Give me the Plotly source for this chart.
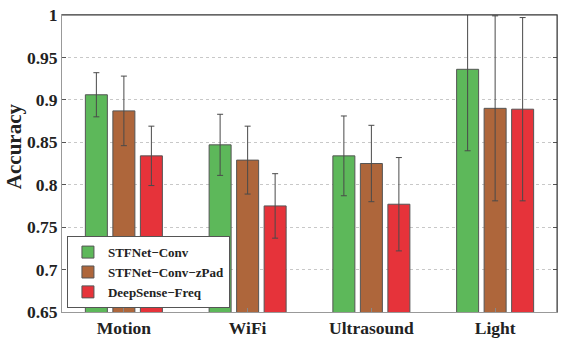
import plotly.graph_objects as go

categories = ["Motion", "WiFi", "Ultrasound", "Light"]
series_names = ["STFNet−Conv", "STFNet−Conv−zPad", "DeepSense−Freq"]
accuracy = [
    [0.906, 0.847, 0.834, 0.936],
    [0.887, 0.829, 0.825, 0.890],
    [0.834, 0.775, 0.777, 0.889],
]
errors = [
    [0.026, 0.036, 0.047, 0.096],
    [0.041, 0.040, 0.045, 0.109],
    [0.035, 0.038, 0.055, 0.108],
]
colors = ["#5DB85A", "#AE663B", "#E6333A"]
y_ticks = [0.65, 0.7, 0.75, 0.8, 0.85, 0.9, 0.95, 1]
y_tick_text = ["0.65", "0.7", "0.75", "0.8", "0.85", "0.9", "0.95", "1"]

SERIF = "Liberation Serif, Times New Roman, serif"

fig = go.Figure()
for name, vals, errs, color in zip(series_names, accuracy, errors, colors):
    fig.add_trace(
        go.Bar(
            x=categories,
            y=vals,
            name=name,
            marker=dict(color=color, line=dict(color="#555", width=1)),
            error_y=dict(
                type="data",
                array=errs,
                color="#4a4a4a",
                thickness=1,
                width=3,
            ),
        )
    )

fig.update_layout(
    width=561,
    height=342,
    barmode="group",
    bargap=0.333,
    bargroupgap=0.2,
    plot_bgcolor="white",
    paper_bgcolor="white",
    margin=dict(l=62, r=4, t=15, b=30),
    font=dict(family=SERIF, color="#222"),
    legend=dict(
        x=0.01,
        y=0.013,
        xanchor="left",
        yanchor="bottom",
        bgcolor="white",
        bordercolor="#555",
        borderwidth=1,
        font=dict(family=SERIF, size=13, color="#222", weight="bold"),
        tracegroupgap=0,
        itemwidth=30,
    ),
)

fig.update_xaxes(
    showline=True,
    linecolor="#999",
    linewidth=1,
    mirror=True,
    ticks="inside",
    ticklen=4,
    tickcolor="#888",
    tickfont=dict(family=SERIF, size=17.5, weight="bold", color="#222"),
    showgrid=False,
)
fig.update_yaxes(
    range=[0.65, 1],
    tickvals=y_ticks,
    ticktext=y_tick_text,
    showline=True,
    linecolor="#999",
    linewidth=1,
    mirror="allticks",
    ticks="inside",
    ticklen=4,
    tickcolor="#555",
    showgrid=True,
    gridcolor="#c8c8c8",
    griddash="dot",
    gridwidth=1,
    zeroline=False,
    tickfont=dict(family=SERIF, size=17.5, weight="bold", color="#222"),
)

# darker top and right frame edges
fig.add_shape(type="line", xref="paper", yref="paper", x0=0, x1=1, y0=1, y1=1,
              line=dict(color="#333", width=1))
fig.add_shape(type="line", xref="paper", yref="paper", x0=1, x1=1, y0=0, y1=1,
              line=dict(color="#333", width=1))

fig.add_annotation(
    text="Accuracy",
    xref="paper",
    yref="paper",
    x=-0.098,
    y=0.56,
    xanchor="center",
    yanchor="middle",
    textangle=-90,
    showarrow=False,
    font=dict(family=SERIF, size=21, weight="bold", color="#222"),
)

fig.write_html(
    "out.html",
    config={"displayModeBar": False},
    post_script="document.body.style.margin = '0';",
)
